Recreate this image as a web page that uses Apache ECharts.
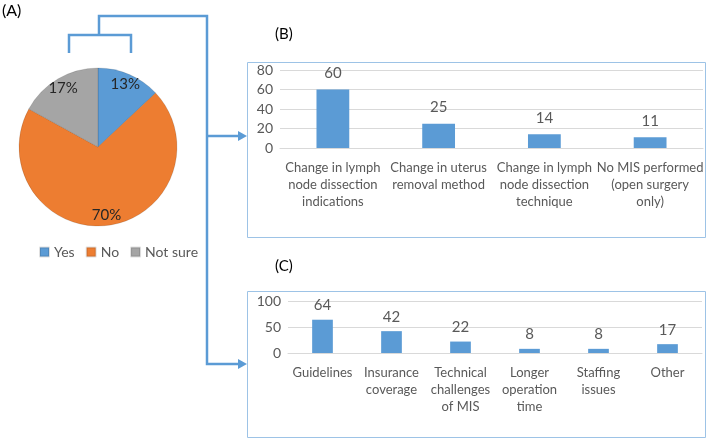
<!DOCTYPE html>
<html>
<head>
<meta charset="utf-8">
<script src="https://cdn.jsdelivr.net/npm/echarts@6/dist/echarts.min.js"></script>
<style>
  html, body { margin: 0; padding: 0; background: #fff; }
  #chart { width: 709px; height: 440px; }
</style>
</head>
<body>
<div id="chart"></div>
<script>
	'use strict';

	/* data */
	var pieNames = ['Yes', 'No', 'Not sure'];
	var pieValues = [13, 70, 17];
	var pieColors = ['#5B9BD5', '#ED7D31', '#A5A5A5'];

	var bCats = ['Change in lymph\nnode dissection\nindications', 'Change in uterus\nremoval method', 'Change in lymph\nnode dissection\ntechnique', 'No MIS performed\n(open surgery\nonly)'];
	var bValues = [60, 25, 14, 11];

	var cCats = ['Guidelines', 'Insurance\ncoverage', 'Technical\nchallenges\nof MIS', 'Longer\noperation\ntime', 'Staffing\nissues', 'Other'];
	var cValues = [64, 42, 22, 8, 8, 17];

	var font = 'Lato';
	var txt = '#595959';
	var blue = '#5B9BD5';

	function pieData(hidden) {
		return pieNames.map(function (n, i) {
			return { name: n, value: pieValues[i], itemStyle: { color: hidden ? 'rgba(0,0,0,0)' : pieColors[i] } };
		});
	}

	function barAxes(cats, max, interval, gi) {
		return {
			x: {
				type: 'category', gridIndex: gi, data: cats,
				axisLine: { lineStyle: { color: '#D9D9D9' } },
				axisTick: { show: false },
				axisLabel: { color: txt, fontFamily: font, fontSize: 13, lineHeight: 17, margin: 11, interval: 0 }
			},
			y: {
				type: 'value', gridIndex: gi, min: 0, max: max, interval: interval,
				axisLine: { show: false }, axisTick: { show: false },
				splitLine: { lineStyle: { color: '#D9D9D9' } },
				axisLabel: { color: txt, fontFamily: font, fontSize: 14, margin: 7 }
			}
		};
	}
	var axB = barAxes(bCats, 80, 20, 0);
	var axC = barAxes(cCats, 100, 50, 1);

	var chart = echarts.init(document.getElementById('chart'));
	var option = {
		animation: false,
		textStyle: { fontFamily: font },
		grid: [
			{ left: 280, right: 6, top: 70, height: 78 },
			{ left: 288, right: 7, top: 301, height: 52 }
		],
		xAxis: [axB.x, axC.x],
		yAxis: [axB.y, axC.y],
		legend: {
			data: pieNames,
			left: 34, top: 240,
			itemWidth: 9, itemHeight: 9, itemGap: 11, icon: 'rect',
			textStyle: { color: txt, fontFamily: font, fontSize: 14 }
		},
		series: [
			{
				type: 'pie', center: [98, 147], radius: [0, 79], startAngle: 90,
				clockwise: true, data: pieData(false),
				itemStyle: { borderColor: 'rgba(0,0,0,0.12)', borderWidth: 1 },
				label: { show: false }, labelLine: { show: false }, emphasis: { disabled: true }
			},
			{
				// label carrier, same data, labels at ~0.83R
				type: 'pie', center: [98, 147], radius: [52, 79], startAngle: 90,
				clockwise: true, silent: true, data: pieData(true),
				label: { show: true, position: 'inside', formatter: '{c}%', color: '#262626', fontFamily: font, fontSize: 15 },
				labelLine: { show: false }, legendHoverLink: false, emphasis: { disabled: true }
			},
			{
				type: 'bar', xAxisIndex: 0, yAxisIndex: 0, data: bValues, barWidth: '31%',
				itemStyle: { color: blue },
				label: { show: true, position: 'top', distance: 9, color: txt, fontFamily: font, fontSize: 15 }
			},
			{
				type: 'bar', xAxisIndex: 1, yAxisIndex: 1, data: cValues, barWidth: '30%',
				itemStyle: { color: blue },
				label: { show: true, position: 'top', distance: 7, color: txt, fontFamily: font, fontSize: 15 }
			}
		],
		graphic: [
			{ type: 'text', left: 2, top: 3, style: { text: '(A)', fill: '#000', font: '16px Lato' } },
			{ type: 'text', left: 275, top: 27, style: { text: '(B)', fill: '#000', font: '15px Lato' } },
			{ type: 'text', left: 275, top: 259, style: { text: '(C)', fill: '#000', font: '15px Lato' } },
			{ type: 'rect', shape: { x: 247.5, y: 62.5, width: 458, height: 175 }, style: { fill: 'none', stroke: '#9DC3E6', lineWidth: 1 }, z: -1 },
			{ type: 'rect', shape: { x: 247.5, y: 291.5, width: 458, height: 146 }, style: { fill: 'none', stroke: '#9DC3E6', lineWidth: 1 }, z: -1 },
			{ type: 'polyline', shape: { points: [[69, 53], [69, 35], [131, 35], [131, 53]] }, style: { fill: 'none', stroke: blue, lineWidth: 2.5 } },
			{ type: 'polyline', shape: { points: [[99, 35], [99, 16], [207, 16], [207, 364], [240, 364]] }, style: { fill: 'none', stroke: blue, lineWidth: 2.5 } },
			{ type: 'polyline', shape: { points: [[207, 136], [240, 136]] }, style: { fill: 'none', stroke: blue, lineWidth: 2.5 } },
			{ type: 'polygon', shape: { points: [[238, 131], [247, 136], [238, 141]] }, style: { fill: blue } },
			{ type: 'polygon', shape: { points: [[238, 359], [247, 364], [238, 369]] }, style: { fill: blue } }
		]
	};
	chart.setOption(option);
</script>
</body>
</html>
